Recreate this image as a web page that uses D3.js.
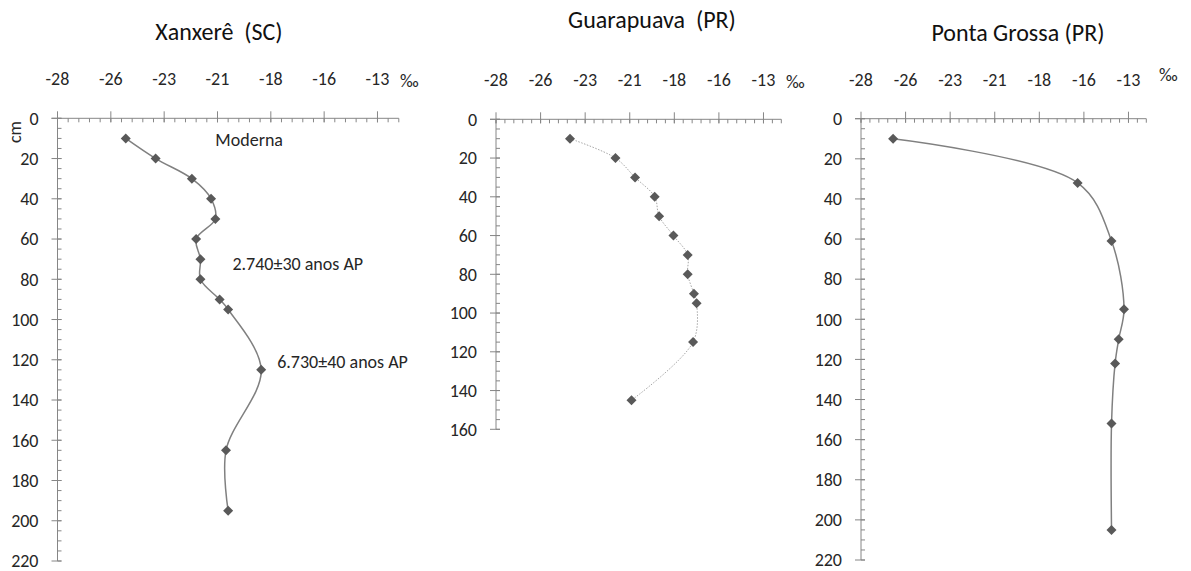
<!DOCTYPE html>
<html>
<head>
<meta charset="utf-8">
<script src="https://cdn.jsdelivr.net/npm/d3@7"></script>
<style>
  body { margin: 0; background: #fff; }
  svg text { font-family: Carlito, Calibri, Lato, sans-serif; fill: #262626; white-space: pre; }
</style>
</head>
<body>
<main></main>
<script>
// values (delta 13C in per mil vs depth in cm)
const xanxereDepth = [10, 20, 30, 40, 50, 60, 70, 80, 90, 95, 125, 165, 195];
const xanxereD13C = [-24.8, -23.4, -21.7, -20.8, -20.6, -21.5, -21.3, -21.3, -20.4, -20.0, -18.45, -20.1, -20.0];

const guarapuavaDepth = [10, 20, 30, 40, 50, 60, 70, 80, 90, 95, 115, 145];
const guarapuavaD13C = [-23.85, -21.3, -20.2, -19.1, -18.85, -18.05, -17.25, -17.25, -16.9, -16.75, -16.95, -20.4];

const pontaGrossaDepth = [10, 32, 61, 95, 110, 122, 152, 205];
const pontaGrossaD13C = [-26.2, -15.85, -13.95, -13.25, -13.55, -13.75, -13.95, -13.95];

const xTickValues = [-28, -25.5, -23, -20.5, -18, -15.5, -13];
const xTickLabels = ["-28", "-26", "-23", "-21", "-18", "-16", "-13"];

const titles = ["Xanxerê  (SC)", "Guarapuava  (PR)", "Ponta Grossa (PR)"];

const annotTexts = ["Moderna", "2.740±30 anos AP", "6.730±40 anos AP"];
const annotD13C = [-20.6, -19.8, -17.7];
const annotDepth = [14, 75.5, 124];

var width = 1191;
var height = 571;

var svg = d3.select("main")
  .append("svg")
  .attr("width", width)
  .attr("height", height);

// panel layout
const panels = [
  { title: titles[0], depth: xanxereDepth, vals: xanxereD13C, left: 57.5, right: 398.8, top: 118.3, bottom: 561, maxDepth: 220,
    titleX: 219, titleY: 40, permilX: 400, permilY: 87, style: "solid" },
  { title: titles[1], depth: guarapuavaDepth, vals: guarapuavaD13C, left: 496, right: 781.3, top: 119.3, bottom: 429.3, maxDepth: 160,
    titleX: 652, titleY: 28, permilX: 786, permilY: 88, style: "dotted" },
  { title: titles[2], depth: pontaGrossaDepth, vals: pontaGrossaD13C, left: 861, right: 1146.3, top: 118.7, bottom: 560, maxDepth: 220,
    titleX: 1018, titleY: 41, permilX: 1159, permilY: 81, style: "solid" }
];

const axisColor = "#868686";

panels.forEach((p, i) => {
  const g = svg.append("g");

  const xScale = d3.scaleLinear().domain([-28, -12]).range([p.left, p.right]);
  const yScale = d3.scaleLinear().domain([0, p.maxDepth]).range([p.top, p.bottom]);

  // title
  g.append("text")
    .attr("x", p.titleX)
    .attr("y", p.titleY)
    .attr("text-anchor", "middle")
    .style("font-size", "24px")
    .style("fill", "#111")
    .text(p.title);

  // x axis (top)
  g.append("line")
    .attr("x1", p.left - 6).attr("x2", p.right)
    .attr("y1", p.top).attr("y2", p.top)
    .attr("stroke", axisColor);

  g.selectAll(".xminor")
    .data(d3.range(-28, -11.99, 0.5))
    .enter()
    .append("line")
    .attr("x1", d => xScale(d)).attr("x2", d => xScale(d))
    .attr("y1", p.top).attr("y2", p.top + 4)
    .attr("stroke", axisColor);

  g.selectAll(".xmajor")
    .data(xTickValues)
    .enter()
    .append("line")
    .attr("x1", d => xScale(d)).attr("x2", d => xScale(d))
    .attr("y1", p.top - 7).attr("y2", p.top + 4)
    .attr("stroke", axisColor);

  g.selectAll(".xlabel")
    .data(xTickValues)
    .enter()
    .append("text")
    .attr("x", d => xScale(d))
    .attr("y", p.top - 33)
    .attr("text-anchor", "middle")
    .style("font-size", "18px")
    .text((d, k) => xTickLabels[k]);

  g.append("text")
    .attr("x", p.permilX)
    .attr("y", p.permilY)
    .style("font-size", "18px")
    .text("‰");

  // y axis (left)
  g.append("line")
    .attr("x1", p.left).attr("x2", p.left)
    .attr("y1", p.top).attr("y2", p.bottom)
    .attr("stroke", axisColor);

  g.selectAll(".yminor")
    .data(d3.range(0, p.maxDepth + 0.1, 5))
    .enter()
    .append("line")
    .attr("x1", p.left).attr("x2", p.left + 4)
    .attr("y1", d => yScale(d)).attr("y2", d => yScale(d))
    .attr("stroke", axisColor);

  g.selectAll(".ymajor")
    .data(d3.range(0, p.maxDepth + 0.1, 20))
    .enter()
    .append("line")
    .attr("x1", p.left - 6).attr("x2", p.left + 4)
    .attr("y1", d => yScale(d)).attr("y2", d => yScale(d))
    .attr("stroke", axisColor);

  g.selectAll(".ylabel")
    .data(d3.range(0, p.maxDepth + 0.1, 20))
    .enter()
    .append("text")
    .attr("x", p.left - 19)
    .attr("y", d => yScale(d))
    .attr("dy", "0.35em")
    .attr("text-anchor", "end")
    .style("font-size", "18px")
    .text(d => d);

  // profile line
  const pts = p.depth.map((d, k) => ({ depth: d, val: p.vals[k] }));
  const line = d3.line()
    .x(d => xScale(d.val))
    .y(d => yScale(d.depth))
    .curve(d3.curveCatmullRom.alpha(0.5));

  g.append("path")
    .datum(pts)
    .attr("d", line)
    .attr("fill", "none")
    .attr("stroke", p.style == "dotted" ? "#a6a6a6" : "#808080")
    .attr("stroke-width", p.style == "dotted" ? 1 : 1.5)
    .attr("stroke-dasharray", p.style == "dotted" ? "1.5,1.5" : null);

  g.selectAll(".marker")
    .data(pts)
    .enter()
    .append("path")
    .attr("d", d3.symbol().type(d3.symbolSquare).size(50))
    .attr("transform", d => "translate(" + xScale(d.val) + "," + yScale(d.depth) + ") rotate(45)")
    .attr("fill", "#595959");

  if (i == 0) {
    g.append("text")
      .attr("transform", "translate(21,132) rotate(-90)")
      .attr("text-anchor", "middle")
      .style("font-size", "18px")
      .text("cm");

    g.selectAll(".annot")
      .data(annotTexts)
      .enter()
      .append("text")
      .attr("x", (d, k) => xScale(annotD13C[k]))
      .attr("y", (d, k) => yScale(annotDepth[k]))
      .style("font-size", "18px")
      .text(d => d);
  }
});
</script>
</body>
</html>
